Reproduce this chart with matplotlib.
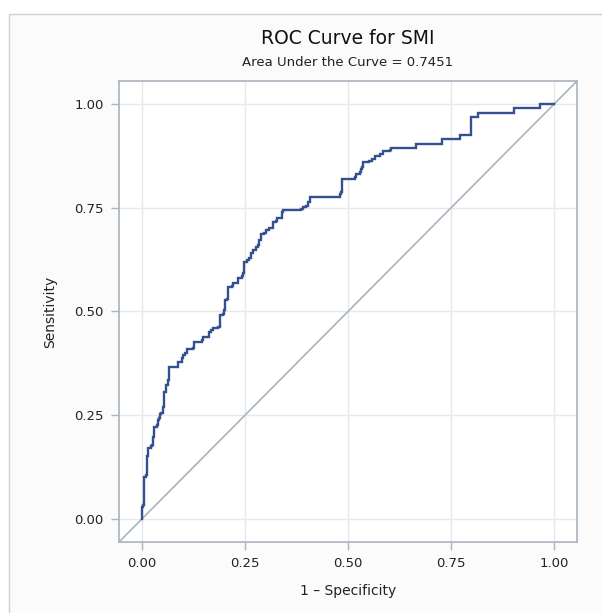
import matplotlib
matplotlib.use("Agg")
import matplotlib.pyplot as plt
from matplotlib.patches import Rectangle

plt.rcParams['font.family'] = ['DejaVu Sans']

title = "ROC Curve for SMI"
subtitle = "Area Under the Curve = 0.7451"
xlabel = "1 \u2013 Specificity"
ylabel = "Sensitivity"
ticks = [0.0, 0.25, 0.5, 0.75, 1.0]
tick_labels = ["0.00", "0.25", "0.50", "0.75", "1.00"]

# ROC curve vertices (1 - specificity, sensitivity)
fpr = [0.000, 0.000, 0.004, 0.005, 0.010, 0.012, 0.016, 0.016, 0.022, 0.026,
       0.028, 0.031, 0.036, 0.039, 0.043, 0.044, 0.048, 0.051, 0.055, 0.055,
       0.059, 0.060, 0.064, 0.067, 0.087, 0.089, 0.097, 0.101, 0.105, 0.109,
       0.125, 0.127, 0.145, 0.149, 0.161, 0.164, 0.169, 0.173, 0.185, 0.189,
       0.196, 0.199, 0.202, 0.207, 0.210, 0.220, 0.222, 0.231, 0.234, 0.242,
       0.246, 0.248, 0.256, 0.260, 0.266, 0.270, 0.274, 0.277, 0.282, 0.285,
       0.290, 0.296, 0.302, 0.309, 0.317, 0.319, 0.325, 0.327, 0.335, 0.339,
       0.343, 0.383, 0.386, 0.391, 0.398, 0.403, 0.407, 0.476, 0.480, 0.482,
       0.486, 0.504, 0.516, 0.520, 0.524, 0.528, 0.532, 0.535, 0.536, 0.552,
       0.558, 0.566, 0.578, 0.585, 0.601, 0.604, 0.661, 0.664, 0.726, 0.728,
       0.770, 0.772, 0.796, 0.799, 0.813, 0.816, 0.899, 0.902, 0.962, 0.966,
       1.000]
tpr = [0.000, 0.030, 0.034, 0.102, 0.107, 0.151, 0.155, 0.171, 0.176, 0.179,
       0.199, 0.221, 0.227, 0.239, 0.243, 0.253, 0.256, 0.271, 0.275, 0.307,
       0.313, 0.323, 0.335, 0.367, 0.367, 0.379, 0.387, 0.395, 0.399, 0.409,
       0.411, 0.427, 0.431, 0.438, 0.439, 0.451, 0.455, 0.461, 0.463, 0.491,
       0.495, 0.503, 0.527, 0.529, 0.558, 0.561, 0.568, 0.569, 0.580, 0.585,
       0.592, 0.620, 0.624, 0.630, 0.640, 0.648, 0.649, 0.656, 0.660, 0.672,
       0.686, 0.688, 0.696, 0.700, 0.702, 0.716, 0.718, 0.724, 0.726, 0.740,
       0.744, 0.744, 0.748, 0.752, 0.754, 0.764, 0.776, 0.776, 0.784, 0.788,
       0.820, 0.820, 0.824, 0.830, 0.832, 0.836, 0.844, 0.848, 0.860, 0.862,
       0.868, 0.874, 0.880, 0.886, 0.888, 0.894, 0.894, 0.904, 0.904, 0.915,
       0.916, 0.925, 0.926, 0.968, 0.968, 0.979, 0.979, 0.990, 0.990, 1.000,
       1.000]

lo, hi = -0.055, 1.055

fig = plt.figure(figsize=(6.02, 6.13), dpi=100)
fig.patch.set_facecolor('white')
# outer frame
frame = Rectangle((9/602, -0.01), 1.0, 1 - 14/613 + 0.01,
                  transform=fig.transFigure, facecolor='#fbfbfc',
                  edgecolor='#c9d0d6', linewidth=1.0, zorder=-5)
fig.patches.append(frame)

ax = fig.add_axes([119/602, 1 - 542/613, (577 - 119)/602, (542 - 81)/613])
ax.set_zorder(2)
ax.set_facecolor('white')
ax.set_xlim(lo, hi)
ax.set_ylim(lo, hi)

ax.plot([lo, hi], [lo, hi], color='#a9b4bd', linewidth=1.2, zorder=2)
ax.plot(fpr, tpr, color='#34508f', linewidth=1.7, zorder=3,
        drawstyle='steps-post', solid_joinstyle='miter')

ax.set_xticks(ticks)
ax.set_xticklabels(tick_labels)
ax.set_yticks(ticks)
ax.set_yticklabels(tick_labels)
ax.grid(True, color='#e6e9ec', linewidth=1.0)
ax.set_axisbelow(True)
for s in ax.spines.values():
    s.set_color('#a9b4bd')
    s.set_linewidth(1.2)
ax.tick_params(direction='out', length=6, width=1, color='#a9b4bd',
               labelsize=9.5, labelcolor='#222222', pad=5)
ax.set_xlabel(xlabel, fontsize=10, color='#222222', labelpad=10)
ax.set_ylabel(ylabel, fontsize=10, color='#222222', labelpad=12)

cx = (119 + 577) / 2 / 602
fig.text(cx, 1 - 39/613, title, ha='center', va='center', fontsize=13.5,
         color='#111111')
fig.text(cx, 1 - 62/613, subtitle, ha='center', va='center', fontsize=9.5,
         color='#222222')

fig.savefig('out.png', dpi=100, facecolor=fig.get_facecolor())
